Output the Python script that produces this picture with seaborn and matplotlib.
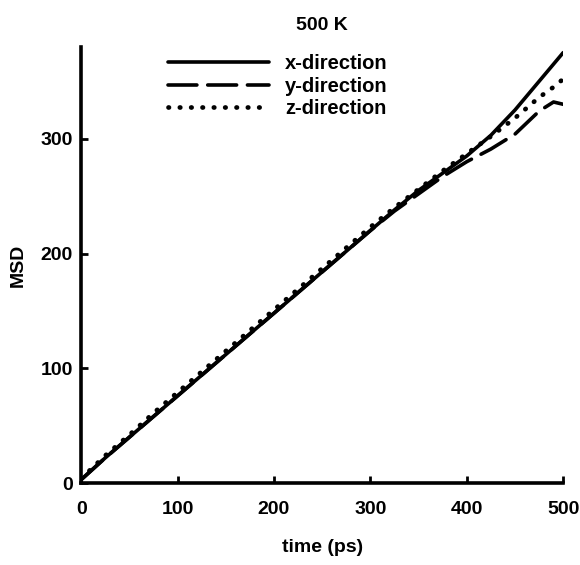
import numpy as np
import pandas as pd
import matplotlib
matplotlib.use("Agg")
import matplotlib.pyplot as plt
import seaborn as sns

time_ps = [0, 25, 50, 75, 100, 125, 150, 175, 200, 225, 250, 275, 300, 325, 350, 375, 400, 425, 450, 475, 490, 500]
msd_x = [3, 22, 40, 58, 76, 94, 112, 130, 148, 166, 184, 202, 220, 238, 255, 270, 285, 303, 325, 350, 365, 375]
msd_y = [3, 22, 40, 58, 76, 94, 112, 130, 148, 166, 184, 202, 220, 237, 252, 267, 280, 291, 304, 324, 332, 330]
msd_z = [4, 24, 42, 61, 79, 97, 115, 133, 151, 169, 187, 205, 223, 240, 256, 272, 287, 302, 318, 336, 345, 352]
labels = ["x-direction", "y-direction", "z-direction"]

df = pd.concat([
    pd.DataFrame({"time": time_ps, "MSD": v, "dir": lab})
    for v, lab in zip([msd_x, msd_y, msd_z], labels)
])

sns.set_theme(style="ticks")
plt.rcParams['font.family'] = ['Liberation Sans', 'DejaVu Sans']
plt.rcParams['font.weight'] = 'bold'
for k in ['text.color', 'axes.labelcolor', 'xtick.color', 'ytick.color', 'axes.edgecolor']:
    plt.rcParams[k] = 'black'

fig = plt.figure(figsize=(5.8, 5.65), dpi=100)
ax = fig.add_axes([0.140, 0.145, 0.831, 0.772])

styles = {"x-direction": "-", "y-direction": (0, (8, 3)), "z-direction": (0, (0.1, 2.3))}
for lab in labels:
    sub = df[df["dir"] == lab]
    lw = 3.4 if lab == "z-direction" else 2.6
    sns.lineplot(data=sub, x="time", y="MSD", ax=ax, color="black", linewidth=lw,
                 linestyle=styles[lab], label=lab, dash_capstyle="round", solid_capstyle="round")

ax.set_xlim(0, 500)
ax.set_ylim(0, 380)
ax.set_xticks([0, 100, 200, 300, 400, 500])
ax.set_yticks([0, 100, 200, 300])
for s in ["top", "right"]:
    ax.spines[s].set_visible(False)
for s in ["left", "bottom"]:
    ax.spines[s].set_linewidth(2.6)
ax.tick_params(direction="in", length=5, width=2, labelsize=14)
ax.tick_params(axis="x", pad=13)
ax.tick_params(axis="y", pad=6)
for t in ax.get_xticklabels() + ax.get_yticklabels():
    t.set_fontweight("bold")
ax.set_xlabel("time (ps)", fontsize=14, fontweight="bold", labelpad=15)
ax.set_ylabel("MSD", fontsize=14, fontweight="bold", labelpad=10)
ax.set_title("500 K", fontsize=14, fontweight="bold", pad=12)

leg = ax.legend(loc="upper left", bbox_to_anchor=(0.143, 1.025), frameon=False, fontsize=14.5,
                handlelength=5.0, handletextpad=0.8, labelspacing=0.18)
for t in leg.get_texts():
    t.set_fontweight("bold")

fig.savefig("out.png", dpi=100)
